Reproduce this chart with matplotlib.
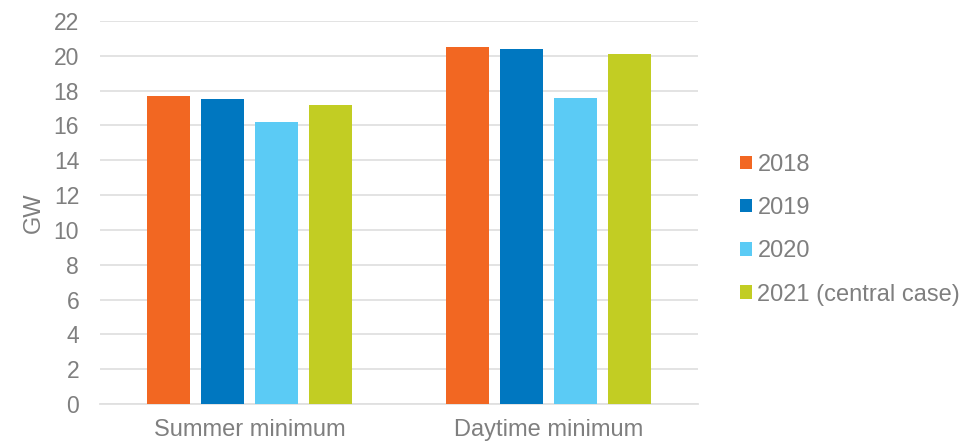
import matplotlib.pyplot as plt
import numpy as np

# Minimum demand values (GW)
categories = ['Summer minimum', 'Daytime minimum']
series_names = ['2018', '2019', '2020', '2021 (central case)']
values_2018 = [17.7, 20.5]
values_2019 = [17.5, 20.4]
values_2020 = [16.2, 17.6]
values_2021 = [17.2, 20.1]
yticks = list(range(0, 23, 2))

colors = ['#F26722', '#0077C0', '#5BCBF5', '#C2CD23']
text_color = '#7F7F7F'
grid_color = '#E0E0E0'

plt.rcParams['font.family'] = ['Liberation Sans', 'DejaVu Sans']

fig = plt.figure(figsize=(9.64, 4.42), dpi=100)
ax = fig.add_axes([100 / 964, 38 / 442, 598 / 964, 383 / 442])

x = np.arange(len(categories))
width = 0.144
step = 0.18
all_values = [values_2018, values_2019, values_2020, values_2021]
for i, (name, vals) in enumerate(zip(series_names, all_values)):
    offset = (i - 1.5) * step
    ax.bar(x + offset, vals, width, color=colors[i], label=name, zorder=3)

ax.set_xlim(-0.5, 1.5)
ax.set_ylim(0, 22)
ax.set_yticks(yticks)
ax.set_xticks(x)
ax.set_xticklabels(categories)
ax.yaxis.grid(True, color=grid_color, linewidth=1.3, zorder=0)
ax.set_axisbelow(True)
for side in ['top', 'right', 'left']:
    ax.spines[side].set_visible(False)
ax.spines['bottom'].set_color(grid_color)
ax.spines['bottom'].set_linewidth(1.3)
ax.tick_params(axis='y', length=0, labelsize=16.5, colors=text_color, pad=15)
ax.tick_params(axis='x', length=0, labelsize=17, colors=text_color, pad=11)
ax.set_ylabel('GW', fontsize=17, color=text_color, labelpad=6)

ax.legend(loc='center left', bbox_to_anchor=(1.054, 0.455), borderaxespad=0,
          frameon=False, fontsize=17, labelcolor=text_color,
          handlelength=0.5, handleheight=0.5, handletextpad=0.25,
          labelspacing=0.9)

plt.savefig('out.png', dpi=100)
plt.close()
